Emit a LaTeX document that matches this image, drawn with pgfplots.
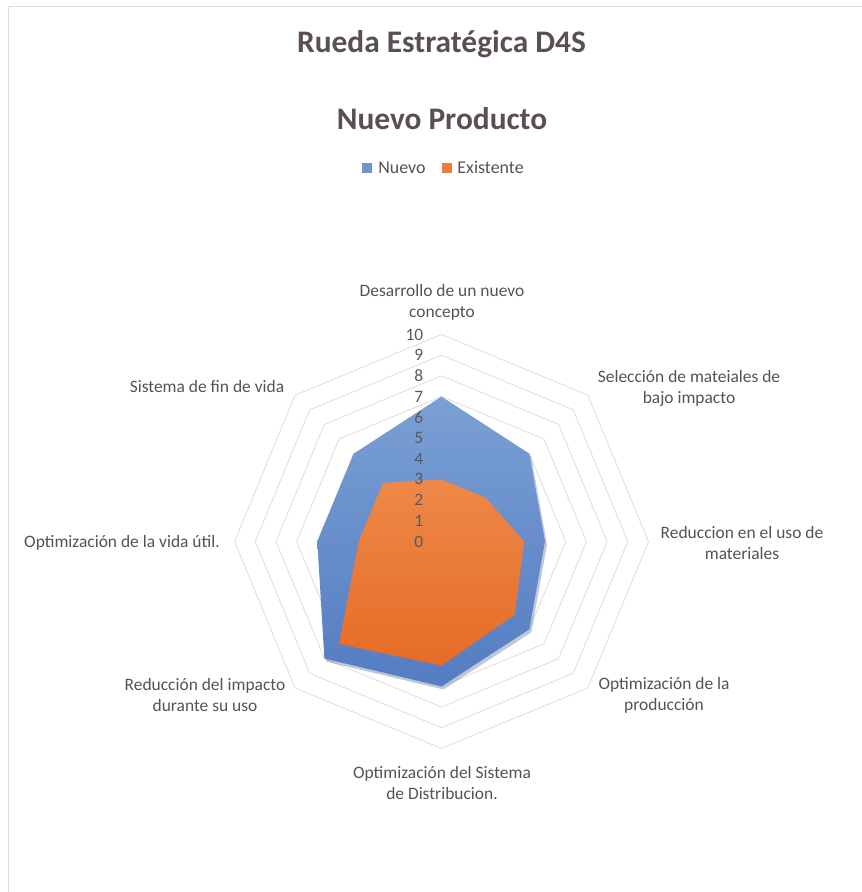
\documentclass[border=0pt]{standalone}
\usepackage{pgfplots}
\pgfplotsset{compat=1.18}
\usepgfplotslibrary{polar}
\usetikzlibrary{shadows}
\usepackage{fontspec}
\setmainfont{Carlito}

\definecolor{txt}{RGB}{89,80,80}
\definecolor{tick}{RGB}{89,89,89}
\definecolor{ringc}{RGB}{228,216,216}
\definecolor{nuevoT}{RGB}{122,160,212}
\definecolor{nuevoB}{RGB}{84,124,194}
\definecolor{existT}{RGB}{238,136,72}
\definecolor{existB}{RGB}{230,108,38}

\begin{document}
\begin{tikzpicture}
\path[use as bounding box] (0,0) rectangle (862bp,892bp);
\draw[ringc, line width=1bp] (8.5bp,0) -- (8.5bp,885.5bp) -- (862bp,885.5bp);

\begin{polaraxis}[
    at={(441.5bp,350.5bp)}, anchor=center,
    scale only axis, width=414bp, height=414bp,
    xmin=0, xmax=360, ymin=0, ymax=10,
    hide axis, clip=false,
    legend image code/.code={\fill[#1] (0bp,-5bp) rectangle (10bp,5bp); \path (14bp,0bp);},
    legend style={at={(0.506,1.402)}, anchor=center, draw=none, fill=none,
        legend columns=2, text=txt, font=\fontsize{18}{20}\selectfont,
        /tikz/every even column/.append style={column sep=14bp}},
]
% octagonal grid rings
\pgfplotsinvokeforeach{1,...,10}{
  \addplot[ringc, line width=0.8bp, forget plot] coordinates
    {(90,#1) (45,#1) (0,#1) (315,#1) (270,#1) (225,#1) (180,#1) (135,#1) (90,#1)};
}
\addplot[draw=none, top color=nuevoT, bottom color=nuevoB, forget plot,
    drop shadow={shadow xshift=2bp, shadow yshift=-3bp, opacity=0.25}] coordinates
  {(90,7) (45,6) (0,5) (315,6) (270,7) (225,8) (180,6) (135,6) (90,7)};
\addplot[draw=none, top color=existT, bottom color=existB, forget plot] coordinates
  {(90,3) (45,3) (0,4) (315,5) (270,6) (225,7) (180,4) (135,4) (90,3)};
\pgfplotsinvokeforeach{0,...,10}{
  \node[anchor=east, inner sep=0pt, xshift=-18bp, text=tick,
        font=\fontsize{17.5}{20}\selectfont] at (axis cs:90,#1) {#1};
}
\addlegendimage{draw=none, fill=nuevoT!70!nuevoB}
\addlegendentry{Nuevo}
\addlegendimage{draw=none, fill=existT!60!existB}
\addlegendentry{Existente}
\end{polaraxis}

\node[anchor=base, text=txt, font=\fontsize{31.5}{37}\selectfont\bfseries]
  at (441.5bp,839bp) {Rueda Estratégica D4S};
\node[anchor=base, text=txt, font=\fontsize{31.5}{37}\selectfont\bfseries]
  at (442bp,762bp) {Nuevo Producto};

\begin{scope}[every node/.style={align=center, text=txt, font=\fontsize{17.5}{21}\selectfont}]
\node at (442bp,590bp) {Desarrollo de un nuevo\\concepto};
\node at (689bp,504bp) {Selección de mateiales de\\bajo impacto};
\node at (742bp,349bp) {Reduccion en el uso de\\materiales};
\node at (664bp,197bp) {Optimización de la\\producción};
\node at (442bp,109bp) {Optimización del Sistema\\de Distribucion.};
\node at (205bp,197bp) {Reducción del impacto\\durante su uso};
\node at (122bp,349bp) {Optimización de la vida útil.};
\node at (207bp,505bp) {Sistema de fin de vida};
\end{scope}
\end{tikzpicture}
\end{document}
